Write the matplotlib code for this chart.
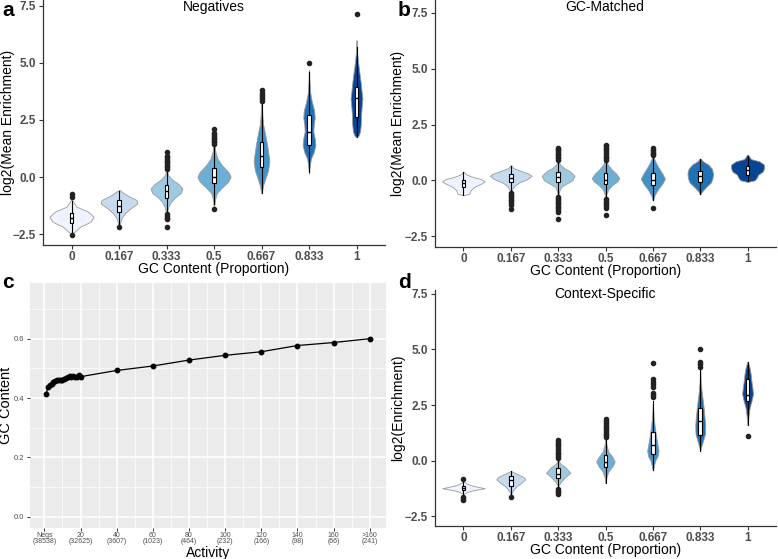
import numpy as np
import matplotlib
matplotlib.use("Agg")
import matplotlib.pyplot as plt
from matplotlib.ticker import FixedLocator, MultipleLocator

plt.rcParams['font.family'] = ['Liberation Sans', 'DejaVu Sans']

# ---- shared categories / palette ----
gc_labels = ['0', '0.167', '0.333', '0.5', '0.667', '0.833', '1']
blues = ['#EFF3FF', '#C6DBEF', '#9ECAE1', '#6BAED6', '#4292C6', '#2171B5', '#084594']
y_ticks = [-2.5, 0.0, 2.5, 5.0, 7.5]
y_ticklabels = ['\u22122.5', '0.0', '2.5', '5.0', '7.5']

# ---- panel a: Negatives (violin outline: level, full width) ----
neg_y = [
    [-1.0, -1.3, -1.52, -1.74, -1.96, -2.18, -2.40, -2.46],
    [-0.57, -0.79, -1.01, -1.16, -1.37, -1.59, -1.81, -2.03, -2.18],
    [0.3, 0.1, -0.1, -0.3, -0.5, -0.7, -0.9, -1.1, -1.3, -1.55],
    [1.4, 1.1, 0.8, 0.5, 0.2, 0.0, -0.2, -0.45, -0.7, -1.0, -1.3],
    [3.25, 2.8, 2.3, 1.9, 1.5, 1.1, 0.7, 0.3, -0.1, -0.4, -0.7],
    [4.7, 4.2, 3.7, 3.3, 2.9, 2.6, 2.3, 2.0, 1.7, 1.4, 1.1, 0.8, 0.5, 0.15],
    [6.0, 5.5, 5.0, 4.6, 4.2, 3.8, 3.45, 3.1, 2.7, 2.3, 2.0, 1.8, 1.75],
]
neg_w = [
    [0.02, 0.21, 0.70, 0.93, 0.80, 0.36, 0.13, 0.02],
    [0.02, 0.32, 0.74, 0.77, 0.49, 0.25, 0.10, 0.04, 0.02],
    [0.02, 0.06, 0.22, 0.50, 0.67, 0.60, 0.35, 0.18, 0.08, 0.02],
    [0.02, 0.06, 0.15, 0.35, 0.62, 0.70, 0.60, 0.35, 0.12, 0.04, 0.01],
    [0.01, 0.03, 0.07, 0.15, 0.22, 0.28, 0.33, 0.28, 0.15, 0.06, 0.01],
    [0.005, 0.02, 0.05, 0.12, 0.22, 0.24, 0.20, 0.18, 0.24, 0.27, 0.20, 0.08, 0.03, 0.005],
    [0.005, 0.02, 0.07, 0.12, 0.17, 0.21, 0.25, 0.22, 0.19, 0.18, 0.15, 0.08, 0.01],
]
# (whisker low, q1, median, q3, whisker high)
neg_box = [
    (-2.45, -2.02, -1.80, -1.58, -1.05),
    (-2.15, -1.52, -1.26, -1.01, -0.60),
    (-1.55, -0.93, -0.60, -0.35, 0.30),
    (-1.20, -0.28, 0.01, 0.38, 1.35),
    (-0.70, 0.45, 0.92, 1.55, 3.20),
    (0.20, 1.40, 1.96, 2.72, 4.60),
    (1.77, 2.62, 3.45, 3.93, 5.70),
]
neg_fliers = [
    [-0.75, -0.88, -2.54],
    [-2.20],
    [1.11, 0.93, 0.86, 0.79, 0.72, 0.65, 0.58, 0.50, 0.42, 0.35, -1.62, -1.70, -1.78, -1.86, -2.21],
    [2.10, 1.95, 1.87, 1.80, 1.73, 1.66, 1.59, 1.52, 1.45, -1.42],
    [3.80, 3.70, 3.60, 3.50, 3.42, 3.32],
    [5.00],
    [7.15],
]

# ---- panel b: GC-Matched ----
gcm_y = [
    [0.37, 0.25, 0.15, 0.05, -0.05, -0.15, -0.3, -0.45, -0.6, -0.67],
    [0.67, 0.55, 0.45, 0.3, 0.2, 0.05, -0.1, -0.25, -0.4, -0.52],
    [0.85, 0.7, 0.55, 0.4, 0.2, 0.0, -0.15, -0.3, -0.5, -0.7],
    [0.9, 0.7, 0.5, 0.3, 0.1, -0.05, -0.2, -0.4, -0.6, -0.8],
    [1.05, 0.8, 0.55, 0.3, 0.07, -0.15, -0.4, -0.65, -0.9],
    [0.97, 0.85, 0.7, 0.5, 0.3, 0.1, -0.1, -0.3, -0.5, -0.63],
    [1.15, 1.05, 0.95, 0.85, 0.7, 0.55, 0.4, 0.25, 0.1, 0.0, -0.07],
]
gcm_w = [
    [0.02, 0.15, 0.40, 0.75, 0.90, 0.75, 0.45, 0.30, 0.25, 0.02],
    [0.02, 0.10, 0.35, 0.75, 0.88, 0.70, 0.35, 0.15, 0.06, 0.02],
    [0.02, 0.08, 0.25, 0.50, 0.69, 0.60, 0.35, 0.12, 0.04, 0.01],
    [0.02, 0.10, 0.25, 0.45, 0.58, 0.50, 0.30, 0.12, 0.04, 0.01],
    [0.02, 0.12, 0.25, 0.40, 0.51, 0.40, 0.22, 0.08, 0.01],
    [0.02, 0.12, 0.35, 0.50, 0.54, 0.52, 0.45, 0.25, 0.08, 0.01],
    [0.02, 0.08, 0.15, 0.50, 0.70, 0.70, 0.65, 0.45, 0.38, 0.30, 0.02],
]
gcm_box = [
    (-0.65, -0.30, -0.12, 0.03, 0.35),
    (-0.50, -0.07, 0.12, 0.30, 0.65),
    (-0.70, -0.08, 0.15, 0.37, 0.85),
    (-0.80, -0.18, 0.03, 0.33, 0.85),
    (-0.90, -0.22, 0.03, 0.33, 1.05),
    (-0.60, -0.08, 0.18, 0.42, 0.95),
    (-0.05, 0.25, 0.45, 0.63, 1.10),
]
gcm_fliers = [
    [],
    [-0.58, -0.65, -0.72, -0.80, -0.88, -0.95, -1.02, -1.10, -1.30],
    [0.92, 0.99, 1.06, 1.13, 1.20, 1.27, 1.34, 1.41, 1.46,
     -0.76, -0.83, -0.90, -0.97, -1.04, -1.11, -1.18, -1.25, -1.32, -1.40, -1.72],
    [0.90, 0.98, 1.06, 1.14, 1.22, 1.30, 1.38, 1.46, 1.54, 1.60,
     -0.85, -0.92, -1.00, -1.08, -1.16, -1.23, -1.54],
    [1.12, 1.20, 1.28, 1.36, 1.43, -1.23],
    [],
    [],
]

# ---- panel d: Context-Specific ----
ctx_y = [
    [-0.95, -1.05, -1.15, -1.25, -1.33, -1.42, -1.5],
    [-0.48, -0.6, -0.75, -0.85, -1.0, -1.15, -1.3, -1.45, -1.53],
    [0.0, -0.15, -0.3, -0.55, -0.75, -0.95, -1.13],
    [1.0, 0.7, 0.4, 0.15, -0.05, -0.25, -0.5, -0.75, -1.0],
    [2.5, 2.0, 1.6, 1.2, 0.8, 0.45, 0.2, 0.0, -0.25, -0.45],
    [4.1, 3.6, 3.1, 2.6, 2.1, 1.6, 1.2, 0.9, 0.65, 0.45],
    [4.45, 4.2, 3.9, 3.6, 3.3, 3.0, 2.7, 2.4, 2.1, 1.8, 1.6],
]
ctx_w = [
    [0.02, 0.15, 0.45, 0.90, 0.45, 0.15, 0.02],
    [0.02, 0.25, 0.55, 0.61, 0.45, 0.25, 0.12, 0.04, 0.01],
    [0.02, 0.10, 0.30, 0.51, 0.30, 0.12, 0.02],
    [0.01, 0.04, 0.12, 0.30, 0.39, 0.30, 0.12, 0.04, 0.005],
    [0.005, 0.03, 0.07, 0.12, 0.18, 0.24, 0.20, 0.10, 0.04, 0.005],
    [0.005, 0.02, 0.06, 0.12, 0.17, 0.21, 0.20, 0.12, 0.05, 0.005],
    [0.01, 0.08, 0.13, 0.16, 0.20, 0.23, 0.17, 0.09, 0.05, 0.02, 0.005],
]
ctx_box = [
    (-1.55, -1.35, -1.25, -1.13, -0.95),
    (-1.50, -1.13, -0.90, -0.68, -0.48),
    (-1.13, -0.78, -0.60, -0.33, 0.05),
    (-1.00, -0.30, -0.06, 0.23, 0.98),
    (-0.45, 0.30, 0.68, 1.28, 2.70),
    (0.45, 1.17, 1.80, 2.37, 4.10),
    (1.60, 2.70, 2.96, 3.68, 4.45),
]
ctx_fliers = [
    [-0.83, -1.65, -1.72, -1.80],
    [-1.65],
    [0.12, 0.20, 0.28, 0.36, 0.44, 0.52, 0.60, 0.68, 0.76, 0.84, 0.92,
     -1.28, -1.36, -1.44, -1.53],
    [1.05, 1.13, 1.21, 1.29, 1.37, 1.45, 1.53, 1.61, 1.69, 1.77, 1.85],
    [4.40, 3.65, 3.55, 3.45, 3.30, 3.05, 2.95, 2.85],
    [5.00, 4.42, 4.35, 4.20],
    [1.10],
]

# ---- panel c: GC content vs activity ----
activity = list(range(1, 21)) + [40, 60, 80, 100, 120, 140, 160, 180]
gc_content = [0.413, 0.437, 0.444, 0.449, 0.453, 0.456, 0.460, 0.461, 0.461, 0.462,
              0.464, 0.466, 0.471, 0.474, 0.472, 0.476, 0.471, 0.470, 0.478, 0.472,
              0.493, 0.508, 0.528, 0.544, 0.556, 0.577, 0.587, 0.600]
act_ticks = [0, 20, 40, 60, 80, 100, 120, 140, 160, 180]
act_labels = ['Negs\n(38538)', '20\n(32625)', '40\n(3607)', '60\n(1023)', '80\n(464)',
              '100\n(232)', '120\n(166)', '140\n(98)', '160\n(66)', '>160\n(241)']

W, H = 778, 559
fig = plt.figure(figsize=(W / 100, H / 100), dpi=100)


def px_axes(l, t, r, b):
    return fig.add_axes([l / W, 1 - b / H, (r - l) / W, (b - t) / H])


def violin_panel(ax, ys, ws, boxes, fliers, ylim, ylabel, ylab_x, xlab_y):
    pos = np.arange(1, 8)
    vstats = []
    for yy, ww, bx in zip(ys, ws, boxes):
        vstats.append(dict(coords=np.array(yy), vals=np.array(ww), mean=bx[2],
                           median=bx[2], min=min(yy), max=max(yy)))
    parts = ax.violin(vstats, positions=pos, widths=[max(w) for w in ws],
                      showmeans=False, showextrema=False, showmedians=False)
    for body, c in zip(parts['bodies'], blues):
        body.set_facecolor(c)
        body.set_edgecolor('#9a9a9a')
        body.set_linewidth(0.6)
        body.set_alpha(1)
    bstats = []
    for bx, fl in zip(boxes, fliers):
        bstats.append(dict(whislo=bx[0], q1=bx[1], med=bx[2], q3=bx[3],
                           whishi=bx[4], fliers=fl))
    ax.bxp(bstats, positions=pos, widths=0.08, patch_artist=True, showcaps=False,
           boxprops=dict(facecolor='white', edgecolor='black', linewidth=0.8),
           medianprops=dict(color='black', linewidth=1.0),
           whiskerprops=dict(color='black', linewidth=0.8),
           flierprops=dict(marker='o', markerfacecolor='#222222',
                           markeredgecolor='#222222', markersize=3))
    ax.set_xlim(0.4, 7.6)
    ax.set_ylim(*ylim)
    ax.set_xticks(pos)
    ax.set_xticklabels(gc_labels)
    ax.yaxis.set_major_locator(FixedLocator(y_ticks))
    ax.set_yticklabels(y_ticklabels)
    for s in ['top', 'right']:
        ax.spines[s].set_visible(False)
    for s in ['left', 'bottom']:
        ax.spines[s].set_color('#333333')
        ax.spines[s].set_linewidth(0.9)
    ax.tick_params(length=3, width=0.8, color='#333333', labelcolor='#4d4d4d',
                   labelsize=8.5, pad=2)
    ax.tick_params(axis='x', pad=1)
    for lab in ax.get_xticklabels() + ax.get_yticklabels():
        lab.set_fontweight('bold')
    ax.set_xlabel('GC Content (Proportion)', fontsize=10)
    ax.set_ylabel(ylabel, fontsize=10)
    ax.xaxis.set_label_coords(0.5, xlab_y)
    ax.yaxis.set_label_coords(ylab_x, 0.5)
    ax.set_facecolor('none')


ax_a = px_axes(43, 0, 385, 245)
violin_panel(ax_a, neg_y, neg_w, neg_box, neg_fliers, (-2.98, 7.76),
             'log2(Mean Enrichment)', -0.082, -0.069)
ax_b = px_axes(435, 0, 776, 247)
violin_panel(ax_b, gcm_y, gcm_w, gcm_box, gcm_fliers, (-2.99, 8.08),
             'log2(Mean Enrichment)', -0.088, -0.069)
ax_d = px_axes(435, 290, 776, 526)
violin_panel(ax_d, ctx_y, ctx_w, ctx_box, ctx_fliers, (-2.95, 7.68),
             'log2(Enrichment)', -0.088, -0.072)

# panel c
ax_c = px_axes(30, 283, 386, 528)
ax_c.set_facecolor('#EBEBEB')
ax_c.plot(activity, gc_content, color='black', linewidth=0.9, marker='o',
          markersize=3.2, zorder=3)
ax_c.set_xlim(-7.95, 188.95)
ax_c.set_ylim(-0.0375, 0.7875)
ax_c.set_xticks(act_ticks)
ax_c.set_xticklabels(act_labels, linespacing=0.75)
ax_c.yaxis.set_major_locator(FixedLocator([0.0, 0.2, 0.4, 0.6]))
ax_c.set_yticklabels(['0.0', '0.2', '0.4', '0.6'])
ax_c.xaxis.set_minor_locator(MultipleLocator(10))
ax_c.yaxis.set_minor_locator(FixedLocator([0.1, 0.3, 0.5, 0.7]))
ax_c.grid(which='major', color='white', linewidth=1.1)
ax_c.grid(which='minor', color='white', linewidth=0.5)
ax_c.set_axisbelow(True)
for s in ax_c.spines.values():
    s.set_visible(False)
ax_c.tick_params(which='major', length=2.5, width=0.7, color='#333333',
                 labelcolor='#4d4d4d', labelsize=5.5, pad=1.5)
ax_c.tick_params(axis='x', which='major', labelsize=5, pad=0.5)
ax_c.tick_params(which='minor', length=0)
ax_c.set_xlabel('Activity', fontsize=10)
ax_c.set_ylabel('GC Content', fontsize=10.5)
ax_c.xaxis.set_label_coords(0.5, -0.075)
ax_c.yaxis.set_label_coords(-0.048, 0.5)

# titles and panel letters
fig.text(214 / W, 1 - 7 / H, 'Negatives', ha='center', va='center', fontsize=10)
fig.text(605 / W, 1 - 7 / H, 'GC-Matched', ha='center', va='center', fontsize=10)
fig.text(605 / W, 1 - 294 / H, 'Context-Specific', ha='center', va='center', fontsize=10)
for letter, x, y in [('a', 2, 10), ('b', 398, 10), ('c', 2, 282), ('d', 398, 282)]:
    fig.text(x / W, 1 - y / H, letter, ha='left', va='center', fontsize=15,
             fontweight='bold')

fig.savefig('out.png', dpi=100)
